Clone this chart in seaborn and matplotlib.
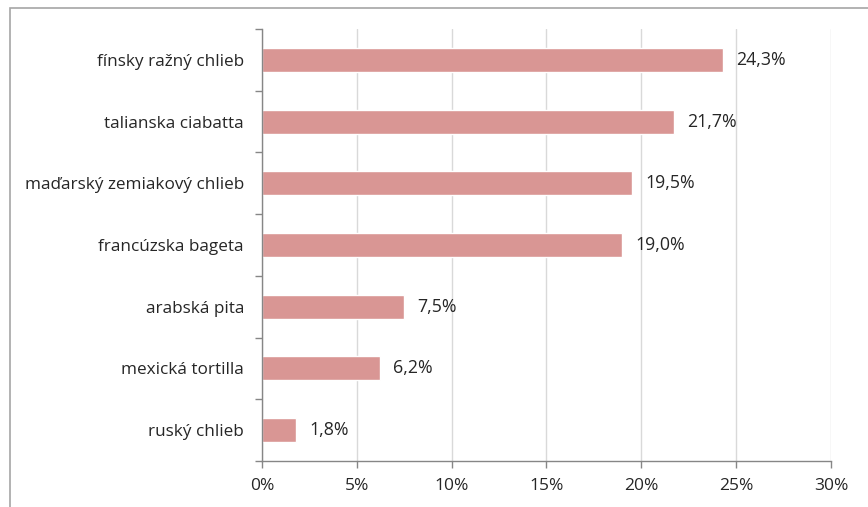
import matplotlib
matplotlib.use("Agg")
import matplotlib.pyplot as plt
from matplotlib.patches import Rectangle
from matplotlib.ticker import FixedLocator, FuncFormatter
import seaborn as sns
import pandas as pd

categories = [
    "fínsky ražný chlieb",
    "talianska ciabatta",
    "maďarský zemiakový chlieb",
    "francúzska bageta",
    "arabská pita",
    "mexická tortilla",
    "ruský chlieb",
]
values = [24.3, 21.7, 19.5, 19.0, 7.5, 6.2, 1.8]
x_ticks = [0, 5, 10, 15, 20, 25, 30]

df = pd.DataFrame({"chlieb": categories, "podiel": values})

sns.set_theme(style="white")
plt.rcParams["font.family"] = ["Open Sans", "DejaVu Sans"]

fig = plt.figure(figsize=(8.68, 5.07), dpi=100)
ax = fig.add_axes([0.3018, 0.0907, 0.6555, 0.8521])

sns.barplot(data=df, x="podiel", y="chlieb", orient="h", color="#D99694",
            saturation=1, width=0.39, ax=ax)

ax.set_xlim(0, 30)
ax.set_ylim(len(categories) - 0.5, -0.5)
ax.set_xlabel("")
ax.set_ylabel("")

ax.xaxis.set_major_locator(FixedLocator(x_ticks))
ax.xaxis.set_major_formatter(FuncFormatter(lambda v, p: f"{v:.0f}%"))
ax.grid(axis="x", color="#D9D9D9", linewidth=1)
ax.set_axisbelow(True)

# category boundaries get the tick marks, labels sit between them
ax.yaxis.set_minor_locator(FixedLocator([i - 0.5 for i in range(len(categories) + 1)]))
ax.tick_params(axis="y", which="major", length=0, pad=13, labelsize=12.3, colors="#262626")
ax.tick_params(axis="y", which="minor", length=5, width=1, color="#868686", left=True)
ax.tick_params(axis="x", which="major", length=5, width=1, color="#868686",
               bottom=True, pad=7, labelsize=12.5, labelcolor="#262626")

for side in ["top", "right"]:
    ax.spines[side].set_visible(False)
for side in ["left", "bottom"]:
    ax.spines[side].set_color("#868686")
    ax.spines[side].set_linewidth(1)

for i, v in enumerate(values):
    ax.text(v + 0.7, i, f"{v:.1f}%".replace(".", ","), va="center", ha="left",
            fontsize=12.8, color="#262626")

# chart area outline
fig.patches.append(Rectangle((10 / 868, -0.1), 1.1, 0.1 + 1 - 8 / 507,
                             transform=fig.transFigure, fill=False,
                             edgecolor="#A6A6A6", linewidth=1.2))

fig.savefig("out.png", dpi=100, facecolor="white")
